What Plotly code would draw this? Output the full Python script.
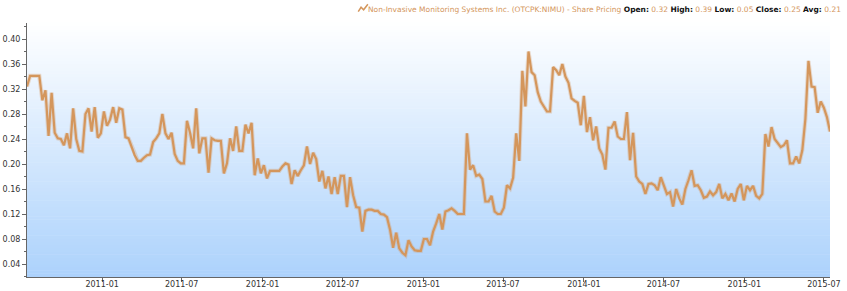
import pandas as pd
import plotly.graph_objects as go

# Weekly share prices
start_date = "2010-07-14"
prices = [
    0.324, 0.341, 0.341, 0.341, 0.341, 0.302, 0.318, 0.245, 0.314, 0.250,
    0.241, 0.240, 0.230, 0.249, 0.225, 0.289, 0.240, 0.221, 0.220, 0.280,
    0.289, 0.252, 0.291, 0.242, 0.249, 0.284, 0.261, 0.271, 0.291, 0.266,
    0.289, 0.287, 0.243, 0.241, 0.228, 0.214, 0.205, 0.205, 0.210, 0.214,
    0.215, 0.235, 0.241, 0.249, 0.280, 0.249, 0.240, 0.250, 0.216, 0.205,
    0.201, 0.201, 0.269, 0.250, 0.225, 0.289, 0.217, 0.241, 0.241, 0.186,
    0.241, 0.238, 0.237, 0.237, 0.185, 0.201, 0.241, 0.221, 0.260, 0.221,
    0.221, 0.263, 0.249, 0.266, 0.182, 0.209, 0.185, 0.198, 0.177, 0.189,
    0.189, 0.189, 0.189, 0.196, 0.201, 0.199, 0.168, 0.190, 0.181, 0.190,
    0.198, 0.228, 0.200, 0.218, 0.208, 0.172, 0.189, 0.161, 0.180, 0.152,
    0.179, 0.152, 0.181, 0.181, 0.131, 0.179, 0.150, 0.131, 0.130, 0.092,
    0.125, 0.127, 0.127, 0.125, 0.125, 0.120, 0.119, 0.115, 0.095, 0.066,
    0.090, 0.065, 0.058, 0.054, 0.078, 0.068, 0.062, 0.061, 0.061, 0.080,
    0.080, 0.070, 0.092, 0.105, 0.120, 0.095, 0.124, 0.126, 0.129, 0.125,
    0.120, 0.120, 0.120, 0.249, 0.191, 0.198, 0.181, 0.183, 0.176, 0.140,
    0.140, 0.149, 0.124, 0.120, 0.120, 0.130, 0.166, 0.161, 0.178, 0.249,
    0.205, 0.349, 0.292, 0.380, 0.347, 0.342, 0.315, 0.300, 0.293, 0.284,
    0.284, 0.355, 0.350, 0.342, 0.360, 0.340, 0.330, 0.305, 0.301, 0.298,
    0.262, 0.309, 0.251, 0.275, 0.238, 0.260, 0.225, 0.215, 0.191, 0.258,
    0.258, 0.268, 0.244, 0.240, 0.240, 0.283, 0.206, 0.250, 0.180, 0.172,
    0.168, 0.152, 0.168, 0.169, 0.166, 0.158, 0.179, 0.165, 0.152, 0.155,
    0.132, 0.160, 0.145, 0.135, 0.160, 0.174, 0.190, 0.165, 0.166, 0.158,
    0.146, 0.148, 0.156, 0.150, 0.155, 0.168, 0.145, 0.152, 0.142, 0.153,
    0.140, 0.160, 0.168, 0.142, 0.165, 0.158, 0.165, 0.149, 0.145, 0.152,
    0.248, 0.228, 0.259, 0.240, 0.234, 0.227, 0.230, 0.238, 0.201, 0.201,
    0.212, 0.201, 0.222, 0.272, 0.365, 0.324, 0.323, 0.282, 0.300, 0.290,
    0.275, 0.252,
]
dates = pd.date_range(start_date, periods=len(prices), freq="7D")

title_text = "Non-Invasive Monitoring Systems Inc. (OTCPK:NIMU) - Share Pricing"
stats_labels = ["Open:", "High:", "Low:", "Close:", "Avg:"]
stats_values = ["0.32", "0.39", "0.05", "0.25", "0.21"]

LINE = "rgb(212,150,92)"
TOP = (255, 255, 255)
BOTTOM = (172, 210, 252)

fig = go.Figure()
fig.add_trace(go.Scatter(x=dates, y=prices, mode="lines",
                         line=dict(color="rgba(212,150,92,0.3)", width=4.2),
                         hoverinfo="skip", showlegend=False))
fig.add_trace(go.Scatter(x=dates, y=prices, mode="lines",
                         line=dict(color=LINE, width=2.2), showlegend=False))

# vertical gradient background in plot area
n = 80
shapes = []
for k in range(n):
    t = (k + 0.5) / n  # 0 bottom -> 1 top
    c = tuple(int(round(BOTTOM[j] + (TOP[j] - BOTTOM[j]) * t)) for j in range(3))
    shapes.append(dict(type="rect", xref="x domain", yref="y domain",
                       x0=0, x1=1, y0=k / n, y1=(k + 1) / n + 0.002,
                       fillcolor="rgb(%d,%d,%d)" % c, line=dict(width=0),
                       layer="below"))
# small legend icon
shapes.append(dict(type="path", xref="paper", yref="paper",
                   path="M 0.4125,1.045 L 0.4160,1.062 L 0.4192,1.052 L 0.4245,1.074",
                   line=dict(color=LINE, width=1.5)))

legend_html = "<span style='color:%s'>%s</span>" % (LINE, title_text)
for lab, val in zip(stats_labels, stats_values):
    legend_html += " <b>%s</b> <span style='color:%s'>%s</span>" % (lab, LINE, val)

fig.update_layout(
    width=847, height=291,
    margin=dict(l=27, r=17, t=23, b=14),
    paper_bgcolor="white", plot_bgcolor="white",
    shapes=shapes,
    annotations=[dict(text=legend_html, xref="paper", yref="paper",
                      x=1.016, y=1.0, xanchor="right", yanchor="bottom",
                      yshift=7, showarrow=False,
                      font=dict(family="DejaVu Sans", size=7.5, color="#111"))],
    font=dict(family="DejaVu Sans", size=8, color="#333"),
)
fig.update_xaxes(
    range=[dates[0], dates[-1]], automargin=False,
    tick0="2011-01-01", dtick="M6", tickformat="%Y-%m",
    ticks="outside", ticklen=4, tickcolor="#666", ticklabelstandoff=-5,
    showline=True, linecolor="#666", linewidth=1,
    showgrid=False, zeroline=False,
    tickfont=dict(family="DejaVu Sans", size=8, color="#333"),
)
fig.update_yaxes(
    range=[0.0192, 0.4256], automargin=False,
    tick0=0, dtick=0.04, tickformat=".2f",
    ticks="outside", ticklen=4, tickcolor="#666",
    minor=dict(dtick=0.02, ticks="outside", ticklen=2, tickcolor="#666"),
    showline=True, linecolor="#666", linewidth=1,
    showgrid=False, zeroline=False,
    tickfont=dict(family="DejaVu Sans", size=8, color="#333"),
)

fig.write_html("out.html")
